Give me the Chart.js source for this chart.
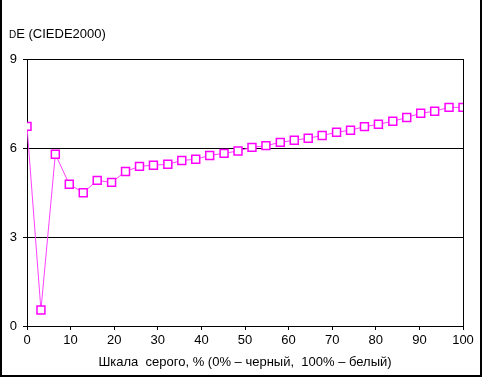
<!DOCTYPE html>
<html>
<head>
<meta charset="utf-8">
<script src="https://cdn.jsdelivr.net/npm/chart.js@4"></script>
<style>
    html, body { margin: 0; padding: 0; background: #fff; }
    #wrap { width: 484px; height: 377px; position: relative; }
</style>
</head>
<body>
<div id="wrap"><canvas id="grafico-de"></canvas></div>
<script>
// шкала серого, %
const serie_x = [0, 3.2, 6.5, 9.7, 12.9, 16.1, 19.4, 22.6, 25.8, 29.0, 32.3, 35.5, 38.7, 41.9, 45.2, 48.4,
    51.6, 54.8, 58.1, 61.3, 64.5, 67.7, 71.0, 74.2, 77.4, 80.6, 83.9, 87.1, 90.3, 93.5, 96.8, 100];
// dE (CIEDE2000)
const serie_de = [6.73, 0.54, 5.79, 4.78, 4.49, 4.91, 4.84, 5.21, 5.38, 5.42, 5.45, 5.58, 5.62, 5.75, 5.82, 5.90,
    6.02, 6.08, 6.19, 6.26, 6.33, 6.42, 6.53, 6.60, 6.72, 6.80, 6.90, 7.03, 7.17, 7.24, 7.37, 7.37];
const ticks_x = [0, 10, 20, 30, 40, 50, 60, 70, 80, 90, 100];
const ticks_y = [0, 3, 6, 9];
const titulo_y = ['D', 'E (CIEDE2000)'];
const titulo_x = 'Шкала  серого, % (0% – черный,  100% – белый)';

const fonte = '"Liberation Sans", Arial, sans-serif';

const moldura = {
    id: 'moldura',
    afterDraw(chart) {
        const c = chart.ctx;
        const a = chart.chartArea;
        c.save();
        c.strokeStyle = '#000';
        c.lineWidth = 1;
        // linha direita da área do gráfico
        c.beginPath();
        c.moveTo(Math.round(a.right) + 0.5, a.top);
        c.lineTo(Math.round(a.right) + 0.5, a.bottom);
        c.stroke();
        // borda externa
        c.lineWidth = 2;
        c.beginPath();
        c.moveTo(1, 0);
        c.lineTo(1, 376);
        c.lineTo(481, 376);
        c.lineTo(481, 0);
        c.stroke();
        // título do eixo y
        c.fillStyle = '#000';
        c.textBaseline = 'alphabetic';
        c.font = '10px ' + fonte;
        c.fillText(titulo_y[0], 9, 38);
        const w = c.measureText(titulo_y[0]).width;
        c.font = '13px ' + fonte;
        c.fillText(titulo_y[1], 9 + w, 38);
        c.restore();
    }
};

new Chart(document.getElementById('grafico-de').getContext('2d'), {
    type: 'scatter',
    data: {
        datasets: [{
            data: serie_x.map((x, i) => ({ x: x, y: serie_de[i] })),
            showLine: true,
            borderColor: '#ff40ff',
            borderWidth: 1,
            pointStyle: 'rect',
            pointRadius: 5.6,
            pointBorderWidth: 1.5,
            pointBorderColor: '#ff00ff',
            pointBackgroundColor: '#ffffff'
        }]
    },
    options: {
        responsive: true,
        maintainAspectRatio: false,
        animation: false,
        layout: { padding: { top: 59, right: 21, left: 0, bottom: 0 } },
        plugins: { legend: { display: false }, tooltip: { enabled: false } },
        scales: {
            x: {
                type: 'linear',
                min: 0,
                max: 100,
                afterBuildTicks: s => { s.ticks = ticks_x.map(v => ({ value: v })); },
                afterFit: s => { s.height = 51; },
                grid: { drawOnChartArea: false, drawTicks: true, tickLength: 4, tickColor: '#000' },
                border: { color: '#000', width: 1 },
                ticks: { color: '#000', padding: 3, maxRotation: 0, font: { family: fonte, size: 13 } },
                title: {
                    display: true,
                    text: titulo_x,
                    color: '#000',
                    padding: { top: 2, bottom: 7 },
                    font: { family: fonte, size: 13 }
                }
            },
            y: {
                min: 0,
                max: 9,
                afterBuildTicks: s => { s.ticks = ticks_y.map(v => ({ value: v })); },
                afterFit: s => { s.width = 27; },
                grid: { color: '#000', lineWidth: 1, drawTicks: true, tickLength: 4, tickColor: '#000' },
                border: { color: '#000', width: 1 },
                ticks: { color: '#000', padding: 6, font: { family: fonte, size: 13 } }
            }
        }
    },
    plugins: [moldura]
});
</script>
</body>
</html>
